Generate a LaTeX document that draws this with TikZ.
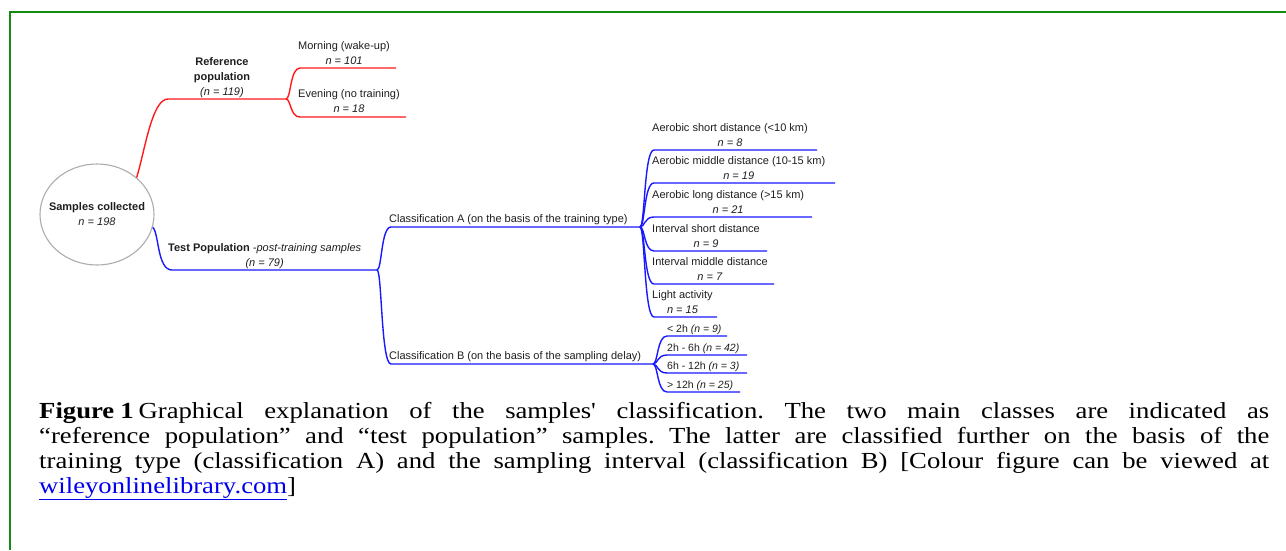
\documentclass[tikz,border=0pt]{standalone}
\usepackage{fontspec}
\usetikzlibrary{shapes.geometric,calc}
\newfontfamily\arialf{Liberation Sans}
\newfontfamily\capf[FakeStretch=1.16]{Liberation Serif}
\definecolor{framegreen}{RGB}{20,140,20}
\definecolor{txt}{RGB}{30,30,30}
\definecolor{linkblue}{RGB}{0,0,238}
\definecolor{mred}{RGB}{255,25,25}
\definecolor{mblue}{RGB}{25,25,255}
\begin{document}
\begin{tikzpicture}[x=1pt,y=-1pt,
  lbl/.style={font=\arialf\fontsize{11}{15}\selectfont, text=txt, inner sep=0pt, align=center, execute at end node=\strut},
  slbl/.style={font=\arialf\fontsize{10.5}{13}\selectfont, text=txt, inner sep=0pt, execute at end node=\strut},
  rootnode/.style={ellipse, draw=gray!65, line width=1.1pt, minimum width=114pt, minimum height=101pt, inner xsep=-10pt, inner ysep=0pt, align=center, font=\arialf\fontsize{11}{15}\selectfont, text=txt},
  rl/.style={draw=mred, line width=1.4pt},
  bl/.style={draw=mblue, line width=1.4pt},
  mm/.style={to path={.. controls ($(\tikztostart)+(5,0)$) and ($(\tikztostart|-\tikztotarget)+(4,0)$) .. ($(\tikztostart|-\tikztotarget)+(14,0)$) -- (\tikztotarget)}},
  frame/.style={draw=framegreen, line width=2pt},
  captext/.style={anchor=north west, inner sep=0pt, text width=1230pt, align=justify, font=\capf\fontsize{23}{25}\selectfont\frenchspacing, text=black}
]
\useasboundingbox (0,0) rectangle (1286,550);
\draw[frame] (10,550) -- (10,12) -- (1286,12);

% root
\node[rootnode] (root) at (97,214.5) {\textbf{Samples collected}\\\textit{n = 198}};

% reference population branch
\coordinate (sR) at (286,99);
\coordinate (eM) at (396,68);
\coordinate (eE) at (406,117);
\draw[rl] (root.43) .. controls (145,150) and (152,99) .. (168,99) -- (sR);
\draw[rl] (sR) to[mm] (eM);
\draw[rl] (sR) to[mm] (eE);
\node[lbl, anchor=south] (refl) at (222,100) {\textbf{Reference}\\\textbf{population}\\\textit{(n = 119)}};
\node[lbl, anchor=south west] (morn) at (298,69) {Morning (wake-up)\\\textit{n = 101}};
\node[lbl, anchor=south west] (even) at (298,117.5) {Evening (no training)\\\textit{n = 18}};

% test population branch
\coordinate (sT) at (377,270);
\coordinate (sA) at (640,227);
\coordinate (sB) at (653,364);
\draw[bl] (root.-13) .. controls (159,232) and (157,270) .. (172,270) -- (sT);
\draw[bl] (sT) to[mm] (sA);
\draw[bl] (sT) to[mm] (sB);
\node[lbl, anchor=south west] (testl) at (168,271) {\textbf{Test Population} \textit{-post-training samples}\\\textit{(n = 79)}};
\node[lbl, anchor=south west] (cla) at (389,227.5) {Classification A (on the basis of the training type)};
\node[lbl, anchor=south west] (clb) at (389,364.5) {Classification B (on the basis of the sampling delay)};

% classification A children
\coordinate (a1) at (817,150);
\coordinate (a2) at (835,183);
\coordinate (a3) at (812,217);
\coordinate (a4) at (767,251);
\coordinate (a5) at (774,284);
\coordinate (a6) at (717,317);
\foreach \c in {a1,a2,a3,a4,a5,a6} \draw[bl] (sA) to[mm] (\c);
\node[lbl, anchor=south west] (la1) at (652,151) {Aerobic short distance (<10 km)\\\textit{n = 8}};
\node[lbl, anchor=south west] (la2) at (652,184) {Aerobic middle distance (10-15 km)\\\textit{n = 19}};
\node[lbl, anchor=south west] (la3) at (652,218) {Aerobic long distance (>15 km)\\\textit{n = 21}};
\node[lbl, anchor=south west] (la4) at (652,252) {Interval short distance\\\textit{n = 9}};
\node[lbl, anchor=south west] (la5) at (652,285) {Interval middle distance\\\textit{n = 7}};
\node[lbl, anchor=south west] (la6) at (652,318) {Light activity\\\textit{n = 15}};

% classification B children
\coordinate (b1) at (727,336);
\coordinate (b2) at (747,355);
\coordinate (b3) at (747,373);
\coordinate (b4) at (740,392);
\foreach \c in {b1,b2,b3,b4} \draw[bl] (sB) to[mm] (\c);
\node[slbl, anchor=south west] (lb1) at (667,336.5) {< 2h \textit{(n = 9)}};
\node[slbl, anchor=south west] (lb2) at (667,355.5) {2h - 6h \textit{(n = 42)}};
\node[slbl, anchor=south west] (lb3) at (667,373.5) {6h - 12h \textit{(n = 3)}};
\node[slbl, anchor=south west] (lb4) at (667,392.5) {> 12h \textit{(n = 25)}};

% caption
\node[captext] (cap) at (39,400.5) {\strut\textbf{Figure\hspace{6pt}1}\hspace{5pt}Graphical explanation of the samples' classification. The two main classes are indicated as\linebreak
“reference population” and “test population” samples. The latter are classified further on the basis of the\linebreak
training type (classification A) and the sampling interval (classification B) [Colour figure can be viewed at\linebreak
\textcolor{linkblue}{\underline{wileyonlinelibrary.com}}]};
\end{tikzpicture}
\end{document}
